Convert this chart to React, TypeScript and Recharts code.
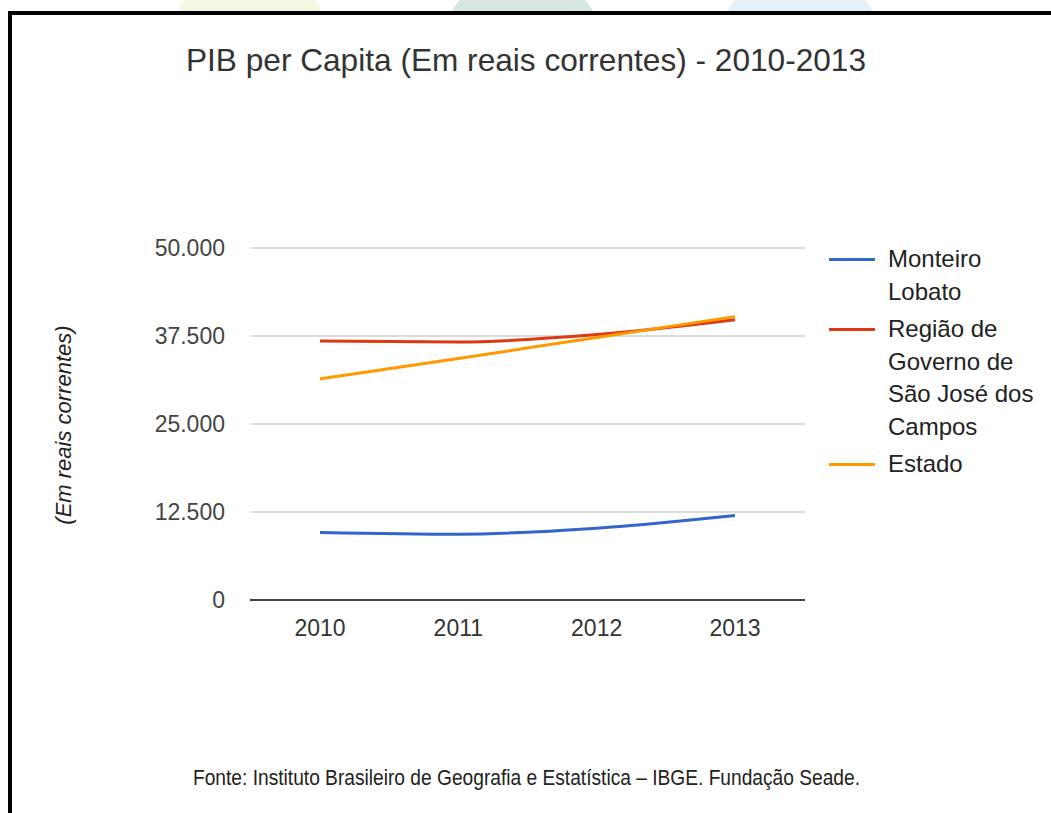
import { CartesianGrid, Line, LineChart, XAxis, YAxis } from "recharts";

const YEARS = ["2010", "2011", "2012", "2013"];
const MONTEIRO_LOBATO = [9600, 9350, 10200, 12000];
const REGIAO_SJC = [36800, 36650, 37700, 39800];
const ESTADO = [31400, 34300, 37300, 40250];
const Y_TICKS = [0, 12500, 25000, 37500, 50000];

const SERIES = [
  { key: "monteiro", name: "Monteiro Lobato", color: "#3366cc", values: MONTEIRO_LOBATO },
  { key: "regiao", name: "Região de Governo de São José dos Campos", color: "#dc3912", values: REGIAO_SJC },
  { key: "estado", name: "Estado", color: "#ff9900", values: ESTADO },
];

const data = YEARS.map((year, i) => {
  const row: Record<string, string | number> = { year };
  SERIES.forEach((s) => (row[s.key] = s.values[i]));
  return row;
});

const FONT = "'Liberation Sans', Arial, sans-serif";

function formatTick(n: number): string {
  return String(n).replace(/\B(?=(\d{3})+(?!\d))/g, ".");
}

export default function App() {
  return (
    <div
      style={{
        position: "absolute",
        left: 0,
        top: 0,
        width: 1051,
        height: 813,
        overflow: "hidden",
        background: "#fff",
        fontFamily: FONT,
      }}
    >
      {/* faint watermark circles peeking above the frame */}
      <div style={{ position: "absolute", left: 165, top: -30, width: 170, height: 170, borderRadius: "50%", background: "#f4fae2" }} />
      <div style={{ position: "absolute", left: 440, top: -30, width: 165, height: 170, borderRadius: "50%", background: "#d6e7e0" }} />
      <div style={{ position: "absolute", left: 715, top: -30, width: 170, height: 170, borderRadius: "50%", background: "#e3f1fb" }} />

      <div
        style={{
          position: "absolute",
          left: 8,
          top: 11,
          width: 1100,
          height: 900,
          background: "#fff",
          borderTop: "4px solid #000",
          borderLeft: "4px solid #000",
        }}
      />

      <svg width={1051} height={813} style={{ position: "absolute", left: 0, top: 0 }}>
        <text
          x={186}
          y={71}
          fontSize={31.5}
          fill="#333"
          fontFamily={FONT}
          textLength={680}
          lengthAdjust="spacingAndGlyphs"
        >
          PIB per Capita (Em reais correntes) - 2010-2013
        </text>
        <text
          x={71}
          y={425}
          fontSize={22}
          fontStyle="italic"
          fill="#222"
          fontFamily={FONT}
          textAnchor="middle"
          transform="rotate(-90 71 425)"
        >
          (Em reais correntes)
        </text>
        <text
          x={193}
          y={785}
          fontSize={22}
          fill="#222"
          fontFamily={FONT}
          textLength={667}
          lengthAdjust="spacingAndGlyphs"
        >
          Fonte: Instituto Brasileiro de Geografia e Estatística – IBGE. Fundação Seade.
        </text>
      </svg>

      <div style={{ position: "absolute", left: 0, top: 0 }}>
        <LineChart
          width={1051}
          height={813}
          data={data}
          margin={{ top: 248, right: 246, bottom: 163, left: 170 }}
        >
          <CartesianGrid horizontal vertical={false} stroke="#d0d0d0" strokeWidth={1.5} />
          <XAxis
            dataKey="year"
            height={50}
            padding={{ left: 70, right: 70 }}
            tickSize={0}
            tickMargin={20}
            stroke="#444"
            strokeWidth={2}
            tick={{ fill: "#333", fontSize: 23, fontFamily: FONT }}
          />
          <YAxis
            width={80}
            domain={[0, 50000]}
            ticks={Y_TICKS}
            tickFormatter={formatTick}
            axisLine={false}
            tickLine={false}
            tickSize={0}
            tickMargin={25}
            tick={{ fill: "#444", fontSize: 23, fontFamily: FONT }}
          />
          {SERIES.map((s) => (
            <Line
              key={s.key}
              type="monotone"
              dataKey={s.key}
              name={s.name}
              stroke={s.color}
              strokeWidth={3}
              dot={false}
              isAnimationActive={false}
            />
          ))}
        </LineChart>
      </div>

      <ul
        style={{
          position: "absolute",
          left: 829,
          top: 243,
          margin: 0,
          padding: 0,
          listStyle: "none",
          fontSize: 24,
          lineHeight: "32.5px",
          color: "#222",
        }}
      >
        {SERIES.map((s) => (
          <li key={s.key} style={{ display: "flex", alignItems: "flex-start", marginBottom: 5 }}>
            <span
              style={{
                display: "inline-block",
                width: 46,
                height: 3,
                marginTop: 15,
                marginRight: 13,
                background: s.color,
              }}
            />
            <span style={{ width: 160 }}>{s.name}</span>
          </li>
        ))}
      </ul>
    </div>
  );
}
